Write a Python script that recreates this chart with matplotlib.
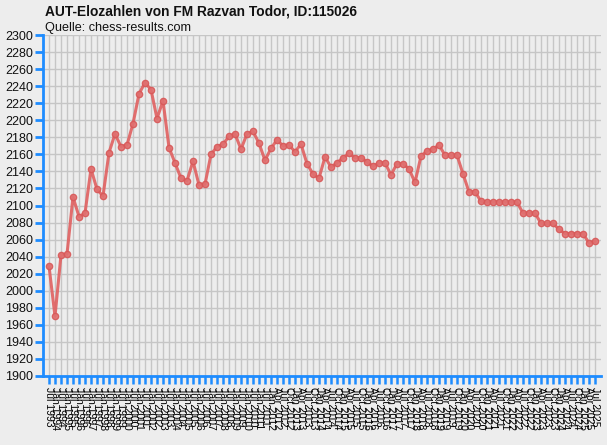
import matplotlib
matplotlib.use("Agg")
import matplotlib.pyplot as plt

# Listen-Termine (Kategorien auf der x-Achse)
dates = [
    "Jul 1993", "Jan 1994", "Jul 1994", "Jan 1995", "Jul 1995", "Jan 1996", "Jul 1996",
    "Jan 1997", "Jul 1997", "Jan 1998", "Jul 1998", "Jan 1999", "Jul 1999", "Jan 2000",
    "Jul 2000", "Jan 2001", "Jul 2001", "Jan 2002", "Jul 2002", "Jan 2003", "Jul 2003",
    "Jan 2004", "Jul 2004", "Jan 2005", "Jul 2005", "Jan 2006", "Jul 2006", "Jan 2007",
    "Jul 2007", "Jan 2008", "Jul 2008", "Jan 2009", "Jul 2009", "Jan 2010", "Jul 2010",
    "Jan 2011", "Jul 2011", "Jan 2012",
    "Apr 2012", "Jul 2012", "Oct 2012",
    "Jan 2013", "Apr 2013", "Jul 2013", "Oct 2013",
    "Jan 2014", "Apr 2014", "Jul 2014", "Oct 2014",
    "Jan 2015", "Apr 2015", "Jul 2015", "Oct 2015",
    "Jan 2016", "Apr 2016", "Jul 2016", "Oct 2016",
    "Jan 2017", "Apr 2017", "Jul 2017", "Oct 2017",
    "Jan 2018", "Apr 2018", "Jul 2018", "Oct 2018",
    "Jan 2019", "Apr 2019", "Jul 2019", "Oct 2019",
    "Jan 2020", "Apr 2020", "Jul 2020", "Oct 2020",
    "Jan 2021", "Apr 2021", "Jul 2021", "Oct 2021",
    "Jan 2022", "Apr 2022", "Jul 2022", "Oct 2022",
    "Jan 2023", "Apr 2023", "Jul 2023", "Oct 2023",
    "Jan 2024", "Apr 2024", "Jul 2024", "Oct 2024",
    "Jan 2025", "Apr 2025", "Jul 2025",
]

# Elozahlen
elo = [
    2029, 1970, 2042, 2043, 2110, 2087, 2091, 2143, 2119, 2111,
    2162, 2184, 2169, 2171, 2196, 2231, 2244, 2236, 2202, 2223,
    2168, 2150, 2132, 2129, 2152, 2124, 2125, 2160, 2169, 2172,
    2181, 2184, 2166, 2184, 2187, 2173, 2153, 2167, 2177, 2170,
    2171, 2163, 2172, 2149, 2137, 2132, 2157, 2145, 2150, 2156,
    2161, 2156, 2156, 2151, 2146, 2150, 2150, 2136, 2149, 2149,
    2143, 2127, 2158, 2164, 2166, 2171, 2159, 2159, 2159, 2137,
    2116, 2116, 2105, 2104, 2104, 2104, 2104, 2104, 2104, 2091,
    2091, 2091, 2079, 2079, 2079, 2072, 2067, 2067, 2067, 2067,
    2056, 2058,
]

y_ticks = list(range(1900, 2301, 20))

bg = "#EDEDED"
blue = "#1E8CFF"
plt.rcParams["font.family"] = ["Liberation Sans", "DejaVu Sans"]

fig = plt.figure(figsize=(6.07, 4.45), dpi=100, facecolor=bg)
ax = fig.add_axes([43 / 607, 69 / 445, 558 / 607, 341 / 445], facecolor=bg)

x = list(range(len(elo)))
ax.plot(x, elo, color="#E06060", lw=2.2, alpha=0.9, marker="o", ms=4.5,
        mfc="#E07070", mec="#D85858", mew=1, zorder=3)

ax.set_xlim(-1, len(elo))
ax.set_ylim(1900, 2300)
ax.set_xticks(x)
ax.set_xticklabels(dates, rotation=-90, fontsize=7.5, va="top", ha="center")
ax.set_yticks(y_ticks)
ax.set_yticklabels([str(v) for v in y_ticks], fontsize=9, color="#111111")

ax.grid(True, color="#C6C6C6", lw=1)
ax.set_axisbelow(True)

for s in ["top", "right"]:
    ax.spines[s].set_visible(False)
for s in ["left", "bottom"]:
    ax.spines[s].set_color(blue)
    ax.spines[s].set_linewidth(2)

ax.tick_params(axis="y", length=6, width=2, color=blue, pad=1)
ax.tick_params(axis="x", length=6, width=1.8, color=blue, pad=2)

fig.text(45 / 607, 1 - 16 / 445, "AUT-Elozahlen von FM Razvan Todor, ID:115026",
         fontsize=9.9, fontweight="bold", color="#111111", va="baseline")
fig.text(45 / 607, 1 - 31 / 445, "Quelle: chess-results.com",
         fontsize=9.1, color="#111111", va="baseline")

fig.savefig("out.png", dpi=100, facecolor=bg)
